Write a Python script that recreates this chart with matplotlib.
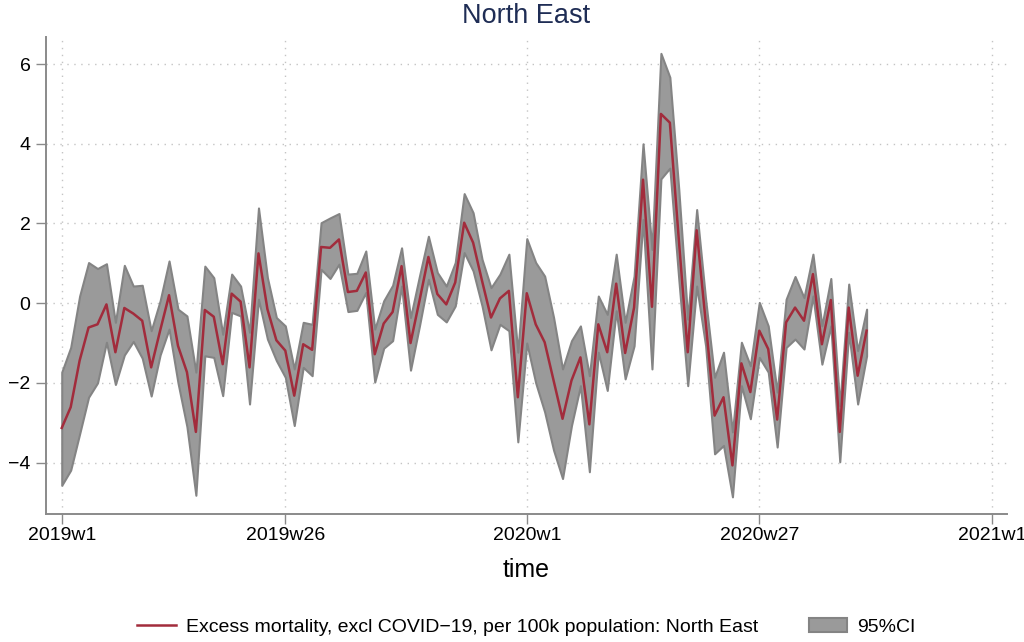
import numpy as np
import matplotlib
matplotlib.use("Agg")
import matplotlib.pyplot as plt
from matplotlib.patches import Patch
from matplotlib.lines import Line2D

plt.rcParams['font.family'] = ['Liberation Sans', 'DejaVu Sans']

# weekly estimates, 2019w1 .. 2020w39
excess = [-3.13, -2.61, -1.44, -0.61, -0.53, -0.03, -1.23, -0.12, -0.26, -0.44,
          -1.61, -0.69, 0.20, -1.07, -1.73, -3.23, -0.17, -0.34, -1.53, 0.24,
          0.04, -1.61, 1.25, -0.15, -0.93, -1.19, -2.32, -1.03, -1.17, 1.41,
          1.39, 1.60, 0.28, 0.31, 0.77, -1.28, -0.51, -0.22, 0.93, -1.00,
          0.06, 1.16, 0.23, -0.03, 0.52, 2.02, 1.52, 0.56, -0.36, 0.12,
          0.31, -2.36, 0.25, -0.53, -0.98, -1.94, -2.90, -1.94, -1.36, -3.04,
          -0.53, -1.23, 0.49, -1.25, -0.11, 3.10, -0.09, 4.75, 4.53, 1.60,
          -1.23, 1.83, -0.45, -2.82, -2.36, -4.07, -1.51, -2.23, -0.69, -1.15,
          -2.92, -0.48, -0.11, -0.44, 0.73, -1.03, 0.08, -3.23, -0.11, -1.82,
          -0.69]

ci_upper = [-1.73, -1.11, 0.18, 1.02, 0.87, 0.99, -0.48, 0.95, 0.43, 0.45,
            -0.69, 0.06, 1.06, -0.15, -0.32, -1.73, 0.93, 0.64, -0.78, 0.73,
            0.43, -0.73, 2.39, 0.64, -0.36, -0.57, -1.65, -0.48, -0.53, 2.02,
            2.14, 2.25, 0.73, 0.75, 1.31, -0.65, 0.06, 0.45, 1.39, -0.36,
            0.68, 1.68, 0.77, 0.43, 1.02, 2.75, 2.27, 1.10, 0.39, 0.73,
            1.23, -1.23, 1.62, 1.02, 0.68, -0.36, -1.65, -0.94, -0.57, -1.82,
            0.18, -0.28, 1.23, -0.48, 0.68, 4.00, 1.35, 6.27, 5.67, 2.85,
            -0.40, 2.35, 0.10, -1.86, -1.23, -3.23, -0.98, -1.57, 0.02, -0.57,
            -2.23, 0.10, 0.67, 0.14, 1.23, -0.57, 0.62, -2.57, 0.48, -1.19,
            -0.15]

ci_lower = [-4.57, -4.19, -3.28, -2.36, -2.00, -0.98, -2.04, -1.30, -0.96, -1.38,
            -2.33, -1.30, -0.65, -2.00, -3.10, -4.82, -1.32, -1.36, -2.32, -0.23,
            -0.32, -2.53, 0.10, -0.90, -1.44, -1.86, -3.07, -1.61, -1.82, 0.85,
            0.62, 0.98, -0.21, -0.18, 0.27, -1.98, -1.13, -0.94, 0.43, -1.68,
            -0.57, 0.60, -0.28, -0.47, -0.07, 1.27, 0.81, -0.07, -1.17, -0.53,
            -0.69, -3.48, -1.00, -2.00, -2.73, -3.69, -4.40, -3.07, -2.07, -4.23,
            -1.23, -2.19, -0.19, -1.90, -1.07, 2.10, -1.65, 3.12, 3.39, 0.60,
            -2.07, 0.43, -1.07, -3.78, -3.57, -4.86, -2.07, -2.90, -1.36, -1.73,
            -3.61, -1.11, -0.90, -1.15, 0.18, -1.53, -0.57, -3.98, -0.73, -2.53,
            -1.32]

tick_weeks = [0, 25, 52, 78, 104]
tick_labels = ['2019w1', '2019w26', '2020w1', '2020w27', '2021w1']
y_ticks = [-4, -2, 0, 2, 4, 6]

x = np.arange(len(excess))
W, H = 1024, 642
fig = plt.figure(figsize=(W / 100, H / 100), dpi=100)
ax = fig.add_axes([46 / W, 1 - 514 / H, (1007 - 46) / W, (514 - 37) / H])

grid_col = '#c4c4c4'
for yt in y_ticks:
    ax.axhline(yt, color=grid_col, lw=1.0, ls=(0, (1, 4)), zorder=0)
for xt in tick_weeks:
    ax.axvline(xt, color=grid_col, lw=1.0, ls=(0, (1, 4)), zorder=0)

ax.fill_between(x, ci_lower, ci_upper, facecolor='#9a9a9a', edgecolor='#848484',
                lw=1.5, zorder=2)
ax.plot(x, excess, color='#a22c3c', lw=1.8, zorder=3)

ax.set_xlim(-1.76, 105.7)
ax.set_ylim(-5.29, 6.68)
ax.set_xticks(tick_weeks)
ax.set_xticklabels(tick_labels)
ax.set_yticks(y_ticks)
ax.set_yticklabels([str(v).replace('-', '\u2212') for v in y_ticks])

for s in ['top', 'right']:
    ax.spines[s].set_visible(False)
for s in ['left', 'bottom']:
    ax.spines[s].set_color('#8a8a8a')
    ax.spines[s].set_linewidth(1.4)
ax.tick_params(axis='both', colors='#8a8a8a', length=7.2, width=1.0, labelsize=14,
               labelcolor='black')
ax.tick_params(axis='x', pad=2.5)
ax.tick_params(axis='y', pad=4)

ax.set_xlabel('time', fontsize=18, labelpad=10)
fig.text((46 + 1007) / 2 / W, 1 - 16 / H, 'North East', ha='center', va='center',
         fontsize=19.5, color='#1f2d55')

handles = [Line2D([0], [0], color='#a22c3c', lw=1.8),
           Patch(facecolor='#9a9a9a', edgecolor='#848484', lw=1.5)]
labels = ['Excess mortality, excl COVID\u221219, per 100k population: North East', '95%CI']
fig.legend(handles, labels, loc='center', bbox_to_anchor=(0.514, 1 - 627 / H),
           ncol=2, frameon=False, fontsize=14, handlelength=2.0, handletextpad=0.5,
           columnspacing=2.6)

fig.savefig('out.png', dpi=100)
